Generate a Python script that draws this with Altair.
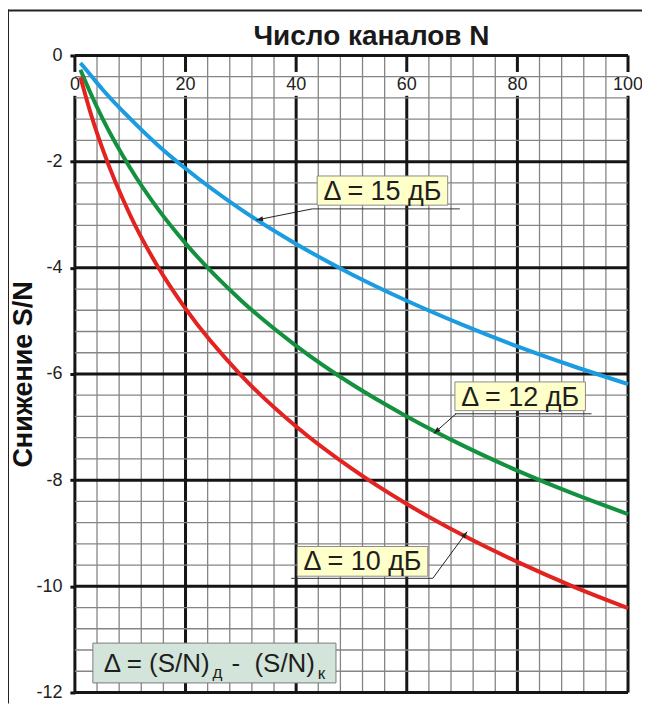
import math
import altair as alt
import pandas as pd

# ---------------- data ----------------
N = [1, 3, 5, 10, 15, 20, 30, 40, 50, 60, 70, 80, 90, 100]
loss_15 = [-0.14, -0.39, -0.64, -1.19, -1.69, -2.13, -2.90, -3.55, -4.12, -4.62, -5.07, -5.48, -5.85, -6.19]
loss_12 = [-0.27, -0.75, -1.19, -2.12, -2.89, -3.54, -4.61, -5.47, -6.19, -6.80, -7.34, -7.82, -8.25, -8.64]
loss_10 = [-0.41, -1.14, -1.76, -3.01, -3.98, -4.77, -6.02, -6.99, -7.78, -8.45, -9.03, -9.54, -10.00, -10.41]
series = ["Δ = 15 дБ", "Δ = 12 дБ", "Δ = 10 дБ"]
series_colors = ["#1b9ce0", "#13913f", "#e3231f"]

x_ticks = [0, 20, 40, 60, 80, 100]
x_tick_labels = ["0", "20", "40", "60", "80", "100"]
x_minor = list(range(0, 101, 4))
y_ticks = [0, -2, -4, -6, -8, -10, -12]
y_minor = [round(-0.4 * i, 1) for i in range(31)]

title_text = "Число каналов N"
y_title = "Снижение S/N"

# callouts (data coordinates)
ann_text_x = [55.6, 80.5, 52.0]
ann_text_y = [-2.72, -6.61, -9.69]
ann_box_x = [43.8, 68.7, 40.2]
ann_box_x2 = [67.4, 92.3, 63.8]
ann_box_y = [-2.27, -6.15, -9.25]
ann_box_y2 = [-2.82, -6.69, -9.81]
ann_line_x = [42.9, 68.7, 39.1]
ann_line_x2 = [69.6, 93.4, 64.7]
ann_line_y = [-2.89, -6.75, -9.85]
arrow_from_x = [42.9, 68.9, 64.7]
arrow_from_y = [-2.89, -6.75, -9.85]
arrow_to_x = [32.8, 64.9, 70.9]
arrow_to_y = [-3.10, -7.12, -8.97]

formula_box = [3.25, 47.2, -11.07, -11.82]
formula_parts = ["Δ = (S/N)", "д", "-\u00a0\u00a0(S/N)", "к"]
formula_x = [5.2, 24.9, 28.3, 43.9]
formula_y = [-11.61, -11.73, -11.61, -11.75]
formula_size = [26, 17, 26, 17]

# ---------------- layout ----------------
W, H = 554, 638
PX_X = W / 100.0
PX_Y = H / 12.0
FONT = "Liberation Sans"
PAD = {"left": 67, "top": 47, "right": 14, "bottom": 11}

x_scale = alt.Scale(domain=[0, 100], nice=False, zero=False)
y_scale = alt.Scale(domain=[-12, 0], nice=False, zero=False)
y_axis = alt.Axis(values=y_ticks, title=y_title, titleFont=FONT, titleFontSize=27,
                  titleFontWeight="bold", titleColor="#111111", titlePadding=-2,
                  labelFont=FONT, labelFontSize=18, labelColor="#222222", labelPadding=8,
                  labelExpr="'' + datum.value",
                  tickSize=5, tickWidth=3, tickColor="#111111", domain=False, grid=False)
X = alt.X("x:Q", scale=x_scale, axis=None)
X2 = alt.X2("x2:Q")
Y = alt.Y("y:Q", scale=y_scale, axis=y_axis)
Y2 = alt.Y2("y2:Q")

minor_v = alt.Chart(pd.DataFrame({"x": x_minor})).mark_rule(color="#858585", strokeWidth=1.3).encode(x=X)
major_v = alt.Chart(pd.DataFrame({"x": x_ticks})).mark_rule(color="#151515", strokeWidth=3).encode(x=X)

hw = [(len(s) * 5.0 + 1.5) / PX_X for s in x_tick_labels]
lab_bg = alt.Chart(pd.DataFrame({
    "x": [t - h for t, h in zip(x_ticks, hw)],
    "x2": [t + h for t, h in zip(x_ticks, hw)],
    "y": [-0.31] * len(x_ticks),
    "y2": [-0.76] * len(x_ticks),
})).mark_rect(color="white").encode(x=X, x2=X2, y=Y, y2=Y2)

minor_h = alt.Chart(pd.DataFrame({"y": y_minor})).mark_rule(color="#858585", strokeWidth=1.3).encode(y=Y)
major_h = alt.Chart(pd.DataFrame({"y": y_ticks})).mark_rule(color="#151515", strokeWidth=3).encode(y=Y)

x_labels = alt.Chart(pd.DataFrame({"x": x_ticks, "y": [-0.56] * len(x_ticks), "t": x_tick_labels})).mark_text(
    font=FONT, fontSize=18, color="#222222", align="center", baseline="middle"
).encode(x=X, y=Y, text="t:N")

curve_df = pd.DataFrame({
    "x": N * 3,
    "y": loss_15 + loss_12 + loss_10,
    "s": [series[0]] * len(N) + [series[1]] * len(N) + [series[2]] * len(N),
})
curves = alt.Chart(curve_df).mark_line(strokeWidth=4, interpolate="monotone").encode(
    x=X, y=Y,
    color=alt.Color("s:N", scale=alt.Scale(domain=series, range=series_colors), legend=None),
    detail="s:N",
)

underline = alt.Chart(pd.DataFrame({"x": ann_line_x, "x2": ann_line_x2, "y": ann_line_y})).mark_rule(
    color="#333333", strokeWidth=1
).encode(x=X, x2=X2, y=Y)

arrows = alt.Chart(pd.DataFrame({"x": arrow_from_x, "y": arrow_from_y, "x2": arrow_to_x, "y2": arrow_to_y})).mark_rule(
    color="#222222", strokeWidth=1
).encode(x=X, y=Y, x2=X2, y2=Y2)

angles = []
for fx, fy, tx, ty in zip(arrow_from_x, arrow_from_y, arrow_to_x, arrow_to_y):
    dx = (tx - fx) * PX_X
    dy = -(ty - fy) * PX_Y
    angles.append(math.degrees(math.atan2(dx, -dy)) % 360)
heads = alt.Chart(pd.DataFrame({"x": arrow_to_x, "y": arrow_to_y, "a": angles})).mark_point(
    shape="M0,0L0.38,1L-0.38,1Z", filled=True, color="#222222", size=180, opacity=1
).encode(x=X, y=Y, angle=alt.Angle("a:Q", scale=None))

boxes = alt.Chart(pd.DataFrame({"x": ann_box_x, "x2": ann_box_x2, "y": ann_box_y, "y2": ann_box_y2})).mark_rect(
    fill="#ffffc9", stroke="#8c8c8c", strokeWidth=1
).encode(x=X, x2=X2, y=Y, y2=Y2)
box_text = alt.Chart(pd.DataFrame({"x": ann_text_x, "y": ann_text_y, "t": series})).mark_text(
    font=FONT, fontSize=27, color="#1e1e1e", align="center", baseline="alphabetic"
).encode(x=X, y=Y, text="t:N")

f_box = alt.Chart(pd.DataFrame({"x": [formula_box[0]], "x2": [formula_box[1]],
                                "y": [formula_box[2]], "y2": [formula_box[3]]})).mark_rect(
    fill="#d3e5da", stroke="#7c7c7c", strokeWidth=1
).encode(x=X, x2=X2, y=Y, y2=Y2)
f_text = alt.Chart(pd.DataFrame({"x": formula_x, "y": formula_y, "t": formula_parts, "fs": formula_size})).mark_text(
    font=FONT, color="#1e1e1e", align="left", baseline="alphabetic"
).encode(x=X, y=Y, text="t:N", size=alt.Size("fs:Q", scale=None))

title = alt.Chart(pd.DataFrame({"t": [title_text]})).mark_text(
    font=FONT, fontSize=28, fontWeight="bold", color="#1a1a1a", align="center", baseline="alphabetic"
).encode(x=alt.value(297), y=alt.value(-10), text="t:N")

frame_top = alt.Chart(pd.DataFrame({"t": [0]})).mark_rule(color="#222222", strokeWidth=2).encode(
    x=alt.value(-PAD["left"] - 1), x2=alt.value(W + PAD["right"]), y=alt.value(-45))
frame_left = alt.Chart(pd.DataFrame({"t": [0]})).mark_rule(color="#222222", strokeWidth=2).encode(
    x=alt.value(-PAD["left"]), y=alt.value(-46), y2=alt.value(H + PAD["bottom"]))

chart = alt.layer(
    minor_v, major_v, lab_bg, minor_h, major_h, x_labels, curves,
    underline, arrows, heads, boxes, box_text, f_box, f_text, title, frame_top, frame_left
).properties(
    width=W, height=H,
    autosize=alt.AutoSizeParams(type="none"),
    padding=PAD,
    background="white",
).configure_view(stroke=None)

chart.save("out.html", embed_options={"renderer": "svg", "actions": False})
